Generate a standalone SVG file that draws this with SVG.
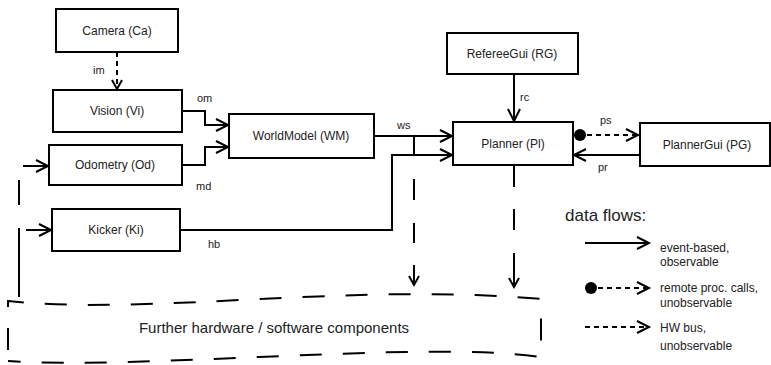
<svg xmlns="http://www.w3.org/2000/svg" width="771" height="365" viewBox="0 0 771 365">
<defs>
<style>
.box{fill:#fff;stroke:#000;stroke-width:2}
.lbl{font-family:"Liberation Sans",Arial,sans-serif;font-size:12px;fill:#222;text-anchor:middle}
.sm{font-family:"Liberation Sans",Arial,sans-serif;font-size:11px;fill:#222}
.lg{font-family:"Liberation Sans",Arial,sans-serif;font-size:12px;fill:#222}
.ln{fill:none;stroke:#000;stroke-width:2}
.dot{fill:none;stroke:#000;stroke-width:2;stroke-dasharray:5 4}
.bus{fill:none;stroke:#000;stroke-width:2}
</style>
<marker id="ah" markerUnits="userSpaceOnUse" markerWidth="16" markerHeight="16" refX="13" refY="7" orient="auto" overflow="visible">
<path d="M1,1 L13,7 L1,13" fill="none" stroke="#000" stroke-width="2"/>
</marker>
<marker id="ahs" markerUnits="userSpaceOnUse" markerWidth="14" markerHeight="14" refX="10" refY="6" orient="auto" overflow="visible">
<path d="M1,1 L10,6 L1,11" fill="none" stroke="#000" stroke-width="2"/>
</marker>
</defs>
<rect width="771" height="365" fill="#fff"/>

<g id="further">
<path class="bus" d="M8,350 L8,301 C150,316 350,282 541,299 L541,357 C420,340 150,370 8,361" stroke-dasharray="22 21"/>
<text x="274" y="333" style="font-family:'Liberation Sans',Arial,sans-serif;font-size:15px;fill:#222;text-anchor:middle">Further hardware / software components</text>
</g>

<g id="connectors">
<path class="dot" d="M117,52 V89" marker-end="url(#ahs)"/>
<path class="ln" d="M182,111 H205 V125 H228" marker-end="url(#ah)"/>
<path class="ln" d="M182,165 H205 V147 H228" marker-end="url(#ah)"/>
<path class="ln" d="M23,166 H48" marker-end="url(#ah)"/>
<path class="ln" d="M26,230 H51" marker-end="url(#ah)"/>
<path class="ln" d="M374,136 H452" marker-end="url(#ah)"/>
<path class="ln" d="M180,230 H392 V155 H452" marker-end="url(#ah)"/>
<path class="bus" d="M414,136 V156 M414,179 V200 M414,223 V243 M414,265 V285" marker-end="url(#ahs)"/>
<path class="ln" d="M514,74 V121" marker-end="url(#ah)"/>
<circle cx="580" cy="135" r="6" fill="#000"/>
<path class="dot" d="M587,135 H638" marker-end="url(#ah)"/>
<path class="ln" d="M640,155 H574" marker-end="url(#ah)"/>
<path class="bus" d="M514,165 V187 M514,209 V230 M514,253 V287" marker-end="url(#ahs)"/>
<path class="bus" d="M19,180 V205 M19,228 V297"/>
<text class="sm" x="93" y="74">im</text>
<text class="sm" x="197" y="102">om</text>
<text class="sm" x="196" y="190">md</text>
<text class="sm" x="397" y="129">ws</text>
<text class="sm" x="208" y="248">hb</text>
<text class="sm" x="520" y="101">rc</text>
<text class="sm" x="600" y="124">ps</text>
<text class="sm" x="598" y="171">pr</text>
</g>

<g id="camera"><rect class="box" x="56" y="9" width="122" height="43"/><text class="lbl" x="117" y="35">Camera (Ca)</text></g>
<g id="vision"><rect class="box" x="53" y="90" width="129" height="42"/><text class="lbl" x="117" y="115">Vision (Vi)</text></g>
<g id="odometry"><rect class="box" x="49" y="145" width="133" height="40"/><text class="lbl" x="115" y="169">Odometry (Od)</text></g>
<g id="kicker"><rect class="box" x="52" y="209" width="128" height="42"/><text class="lbl" x="116" y="234">Kicker (Ki)</text></g>
<g id="worldmodel"><rect class="box" x="229" y="114" width="145" height="44"/><text class="lbl" x="301" y="140">WorldModel (WM)</text></g>
<g id="refereegui"><rect class="box" x="447" y="33" width="131" height="41"/><text class="lbl" x="512" y="58">RefereeGui (RG)</text></g>
<g id="planner"><rect class="box" x="453" y="122" width="120" height="43"/><text class="lbl" x="513" y="148">Planner (Pl)</text></g>
<g id="plannergui"><rect class="box" x="640" y="123" width="130" height="43"/><text class="lbl" x="707" y="149">PlannerGui (PG)</text></g>

<g id="legend">
<text x="565" y="221" style="font-family:'Liberation Sans',Arial,sans-serif;font-size:17px;fill:#222">data flows:</text>
<path class="ln" d="M585,243 H649" marker-end="url(#ah)"/>
<circle cx="591" cy="288" r="6" fill="#000"/>
<path class="dot" d="M598,288 H649" marker-end="url(#ah)"/>
<path class="dot" d="M585,327 H649" marker-end="url(#ah)"/>
<text class="lg" x="660" y="252">event-based,</text>
<text class="lg" x="660" y="266">observable</text>
<text class="lg" x="660" y="292">remote proc. calls,</text>
<text class="lg" x="660" y="307">unobservable</text>
<text class="lg" x="660" y="332">HW bus,</text>
<text class="lg" x="660" y="350">unobservable</text>
</g>
</svg>
